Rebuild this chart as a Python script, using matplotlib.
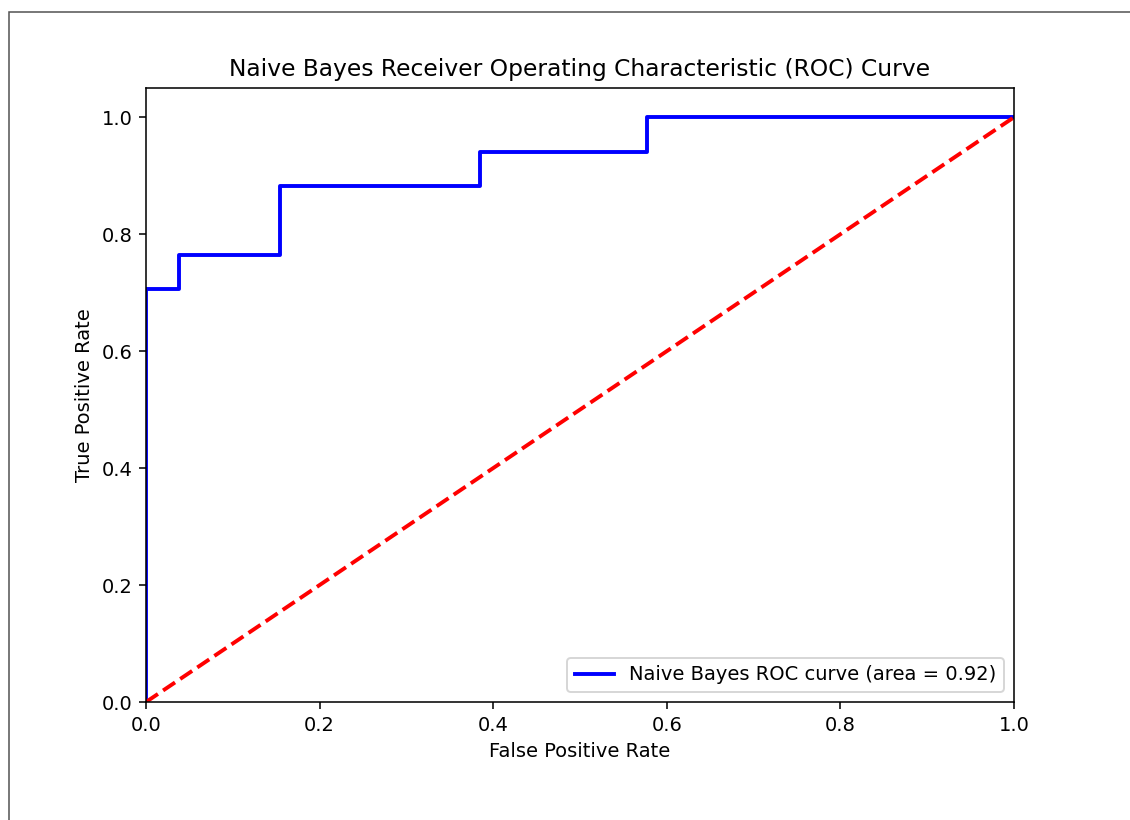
import matplotlib
matplotlib.use('Agg')
import matplotlib.pyplot as plt
from matplotlib.patches import Rectangle

# ROC points (step curve)
fpr = [0.0, 0.0, 0.0385, 0.0385, 0.154, 0.154, 0.385, 0.385, 0.577, 0.577, 1.0]
tpr = [0.0, 0.706, 0.706, 0.765, 0.765, 0.882, 0.882, 0.941, 0.941, 1.0, 1.0]
roc_auc = 0.92
chance = [0.0, 1.0]

DPI = 140
fig = plt.figure(figsize=(1130 / DPI, 820 / DPI), dpi=DPI)
ax = fig.add_axes([146 / 1130, 118 / 820, 868 / 1130, 614 / 820])

ax.plot(fpr, tpr, color='blue', lw=2, label=f'Naive Bayes ROC curve (area = {roc_auc:.2f})')
ax.plot(chance, chance, color='red', lw=2, linestyle='--')
ax.set_xlim(0.0, 1.0)
ax.set_ylim(0.0, 1.05)
ax.set_xlabel('False Positive Rate')
ax.set_ylabel('True Positive Rate')
ax.set_title('Naive Bayes Receiver Operating Characteristic (ROC) Curve')
ax.legend(loc='lower right')

# screenshot frame around the figure
fig.patches.append(Rectangle((8.5 / 1130, -0.1), 1.2, 1 - 11.5 / 820 + 0.1,
                             transform=fig.transFigure, fill=False,
                             edgecolor='#555555', lw=0.8))

fig.savefig('out.png', dpi=DPI)
